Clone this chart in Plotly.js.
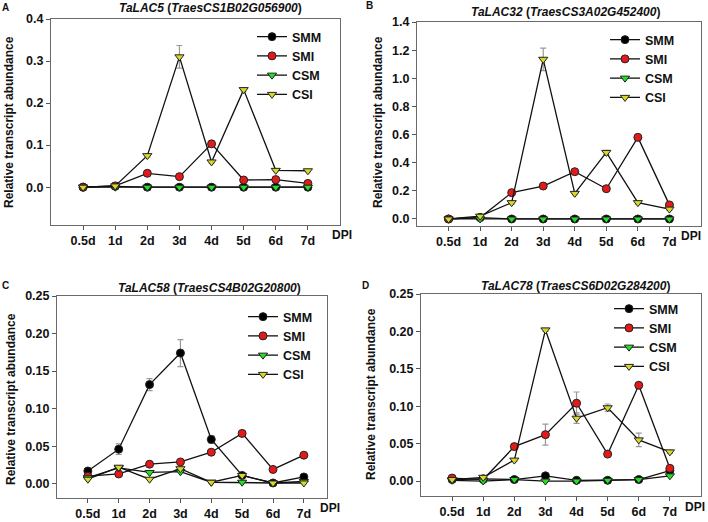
<!DOCTYPE html>
<html>
<head>
<meta charset="utf-8">
<script src="https://cdn.plot.ly/plotly-3.0.1.min.js"></script>
<style>html,body{margin:0;padding:0;background:#fff;}#chart{width:708px;height:522px;}</style>
</head>
<body>
<div id="chart"></div>
<script>
// ---- data ----
const days = ['0.5d','1d','2d','3d','4d','5d','6d','7d'];
const seriesNames = ['SMM','SMI','CSM','CSI'];

// Panel A: TaLAC5
const A_SMM = [0, 0.002, 0, 0, 0, 0, 0, 0];
const A_SMI = [0, 0.003, 0.033, 0.025, 0.103, 0.017, 0.018, 0.009];
const A_CSM = [0, 0, 0, 0, 0, 0, 0, 0];
const A_CSI = [0, 0.003, 0.075, 0.31, 0.06, 0.232, 0.04, 0.039];
const A_SMI_err = [0, 0, 0.002, 0.002, 0.004, 0.002, 0.002, 0.002];
const A_CSI_err = [0, 0, 0.003, 0.027, 0.003, 0.005, 0.002, 0.002];

// Panel B: TaLAC32
const B_SMM = [0, 0.01, 0, 0, 0, 0, 0, 0];
const B_SMI = [0, 0.01, 0.187, 0.234, 0.336, 0.215, 0.58, 0.10];
const B_CSM = [0, 0, 0, 0, 0, 0, 0, 0];
const B_CSI = [0, 0.02, 0.116, 1.135, 0.182, 0.473, 0.116, 0.07];
const B_SMI_err = [0, 0, 0.01, 0.01, 0.01, 0.01, 0.02, 0.01];
const B_CSI_err = [0, 0, 0.01, 0.08, 0.01, 0.015, 0.01, 0.01];

// Panel C: TaLAC58
const C_SMM = [0.017, 0.046, 0.132, 0.174, 0.059, 0.011, 0.001, 0.009];
const C_SMI = [0.010, 0.013, 0.026, 0.029, 0.042, 0.067, 0.019, 0.038];
const C_CSM = [0.008, 0.021, 0.015, 0.016, 0.002, 0.002, 0.001, 0.003];
const C_CSI = [0.006, 0.022, 0.006, 0.020, 0.002, 0.011, 0.001, 0.001];
const C_SMM_err = [0.002, 0.007, 0.008, 0.018, 0.005, 0.001, 0.001, 0.001];
const C_SMI_err = [0.001, 0.001, 0.002, 0.002, 0.002, 0.003, 0.002, 0.002];

// Panel D: TaLAC78
const D_SMM = [0.002, 0.003, 0.002, 0.007, 0.001, 0.001, 0.002, 0.014];
const D_SMI = [0.004, 0.002, 0.046, 0.062, 0.104, 0.036, 0.128, 0.017];
const D_CSM = [0.001, 0, 0.002, 0, 0, 0.001, 0.002, 0.007];
const D_CSI = [0.002, 0.005, 0.028, 0.202, 0.084, 0.098, 0.055, 0.039];
const D_SMI_err = [0.001, 0.001, 0.002, 0.014, 0.015, 0.002, 0.002, 0.002];
const D_CSI_err = [0.001, 0.001, 0.002, 0.002, 0.007, 0.005, 0.009, 0.002];

// ---- styles ----
const W = 708, H = 522;
const px = x => x / W;
const py = y => 1 - y / H;
const FONT = 'Liberation Sans, Arial, sans-serif';
const styles = {
  SMM: {symbol: 'circle', color: '#000000', size: 8},
  SMI: {symbol: 'circle', color: '#e41a1a', size: 8},
  CSM: {symbol: 'triangle-down', color: '#22e022', size: 8},
  CSI: {symbol: 'triangle-down', color: '#d8d82a', size: 8}
};

const panels = [
  {key: 'A', xa: 'x', ya: 'y', leg: 'legend', data: [A_SMM, A_SMI, A_CSM, A_CSI], err: [null, A_SMI_err, null, A_CSI_err]},
  {key: 'B', xa: 'x2', ya: 'y2', leg: 'legend2', data: [B_SMM, B_SMI, B_CSM, B_CSI], err: [null, B_SMI_err, null, B_CSI_err]},
  {key: 'C', xa: 'x3', ya: 'y3', leg: 'legend3', data: [C_SMM, C_SMI, C_CSM, C_CSI], err: [C_SMM_err, C_SMI_err, null, null]},
  {key: 'D', xa: 'x4', ya: 'y4', leg: 'legend4', data: [D_SMM, D_SMI, D_CSM, D_CSI], err: [null, D_SMI_err, null, D_CSI_err]}
];

const traces = [];
panels.forEach(p => {
  seriesNames.forEach((name, i) => {
    const s = styles[name];
    const t = {
      type: 'scatter', mode: 'lines+markers', name: name,
      x: days, y: p.data[i], xaxis: p.xa, yaxis: p.ya, legend: p.leg,
      line: {color: '#111111', width: 1.3},
      marker: {symbol: s.symbol, color: s.color, size: s.size, line: {color: '#222222', width: 1}},
      cliponaxis: false
    };
    if (p.err[i]) {
      t.error_y = {type: 'data', array: p.err[i], visible: true, color: '#999999', thickness: 1.2, width: 3};
    }
    traces.push(t);
  });
});

const tickFont = {family: FONT, size: 12.5, color: '#111', weight: 'bold'};
function xaxis(dom, anchor) {
  return {domain: dom, anchor: anchor, type: 'category', range: [-1, 8], tickmode: 'array', tickvals: days, ticktext: days,
    showline: true, mirror: true, linecolor: '#6a6a6a', linewidth: 1, ticks: 'outside', ticklen: 4, tickcolor: '#555',
    showgrid: false, zeroline: false, tickfont: tickFont, fixedrange: true};
}
function yaxis(dom, anchor, range, dtick, fmt) {
  return {domain: dom, anchor: anchor, range: range, tick0: 0, dtick: dtick, tickformat: fmt,
    showline: true, mirror: true, linecolor: '#6a6a6a', linewidth: 1, ticks: 'outside', ticklen: 4, tickcolor: '#555',
    showgrid: false, zeroline: false, tickfont: tickFont, fixedrange: true};
}

const xA = xaxis([px(51), px(340)], 'y');
const xB = xaxis([px(417), px(701)], 'y2');
const xC = xaxis([px(57), px(327)], 'y3'); xC.range = [-1, 7.75];
const xD = xaxis([px(421), px(701)], 'y4');

const legFont = {family: FONT, size: 12.5, color: '#111', weight: 'bold'};
function legend(x, y) {
  return {x: px(x), y: py(y), xanchor: 'left', yanchor: 'top', xref: 'paper', yref: 'paper',
    bgcolor: 'rgba(0,0,0,0)', borderwidth: 0, font: legFont, tracegroupgap: 0, itemclick: false, itemdoubleclick: false};
}

const ann = [];
function text(x, y, t, size, extra) {
  ann.push(Object.assign({xref: 'paper', yref: 'paper', x: px(x), y: py(y), text: t, showarrow: false,
    xanchor: 'center', yanchor: 'middle', font: {family: FONT, size: size, color: '#111', weight: 'bold'}}, extra || {}));
}
// panel letters
text(5, 7, 'A', 10); text(369, 6, 'B', 10); text(5, 285, 'C', 10); text(366, 285, 'D', 10);
// titles
text(210, 8, '<i>TaLAC5</i> (<i>TraesCS1B02G056900</i>)', 12);
text(565, 12, '<i>TaLAC32</i> (<i>TraesCS3A02G452400</i>)', 12);
text(209, 288, '<i>TaLAC58</i> (<i>TraesCS4B02G20800</i>)', 12);
text(575, 286, '<i>TaLAC78</i> (<i>TraesCS6D02G284200</i>)', 12);
// y-axis titles
text(9, 122, 'Relative transcript abundance', 12, {textangle: -90});
text(378, 122, 'Relative transcript abundance', 12, {textangle: -90});
text(11, 399, 'Relative transcript abundance', 12, {textangle: -90});
text(371, 394, 'Relative transcript abundance', 12, {textangle: -90});
// DPI labels
text(342, 235, 'DPI', 12); text(691, 236, 'DPI', 12); text(330, 508, 'DPI', 12); text(695, 507, 'DPI', 12);

const layout = {
  width: W, height: H, margin: {l: 0, r: 0, t: 0, b: 0},
  paper_bgcolor: '#ffffff', plot_bgcolor: '#ffffff',
  font: {family: FONT, color: '#111'},
  showlegend: true,
  xaxis: xA, yaxis: yaxis([py(225), py(19)], 'x', [-0.09, 0.4], 0.1, '.1f'),
  xaxis2: xB, yaxis2: yaxis([py(226), py(22)], 'x2', [-0.05, 1.4], 0.2, '.1f'),
  xaxis3: xC, yaxis3: yaxis([py(498), py(296)], 'x3', [-0.019, 0.25], 0.05, '.2f'),
  xaxis4: xD, yaxis4: yaxis([py(496), py(294)], 'x4', [-0.02, 0.25], 0.05, '.2f'),
  legend: legend(252, 22),
  legend2: legend(605, 25),
  legend3: legend(243, 302),
  legend4: legend(609, 294),
  annotations: ann
};

Plotly.newPlot('chart', traces, layout, {staticPlot: true, displayModeBar: false});
</script>
</body>
</html>
